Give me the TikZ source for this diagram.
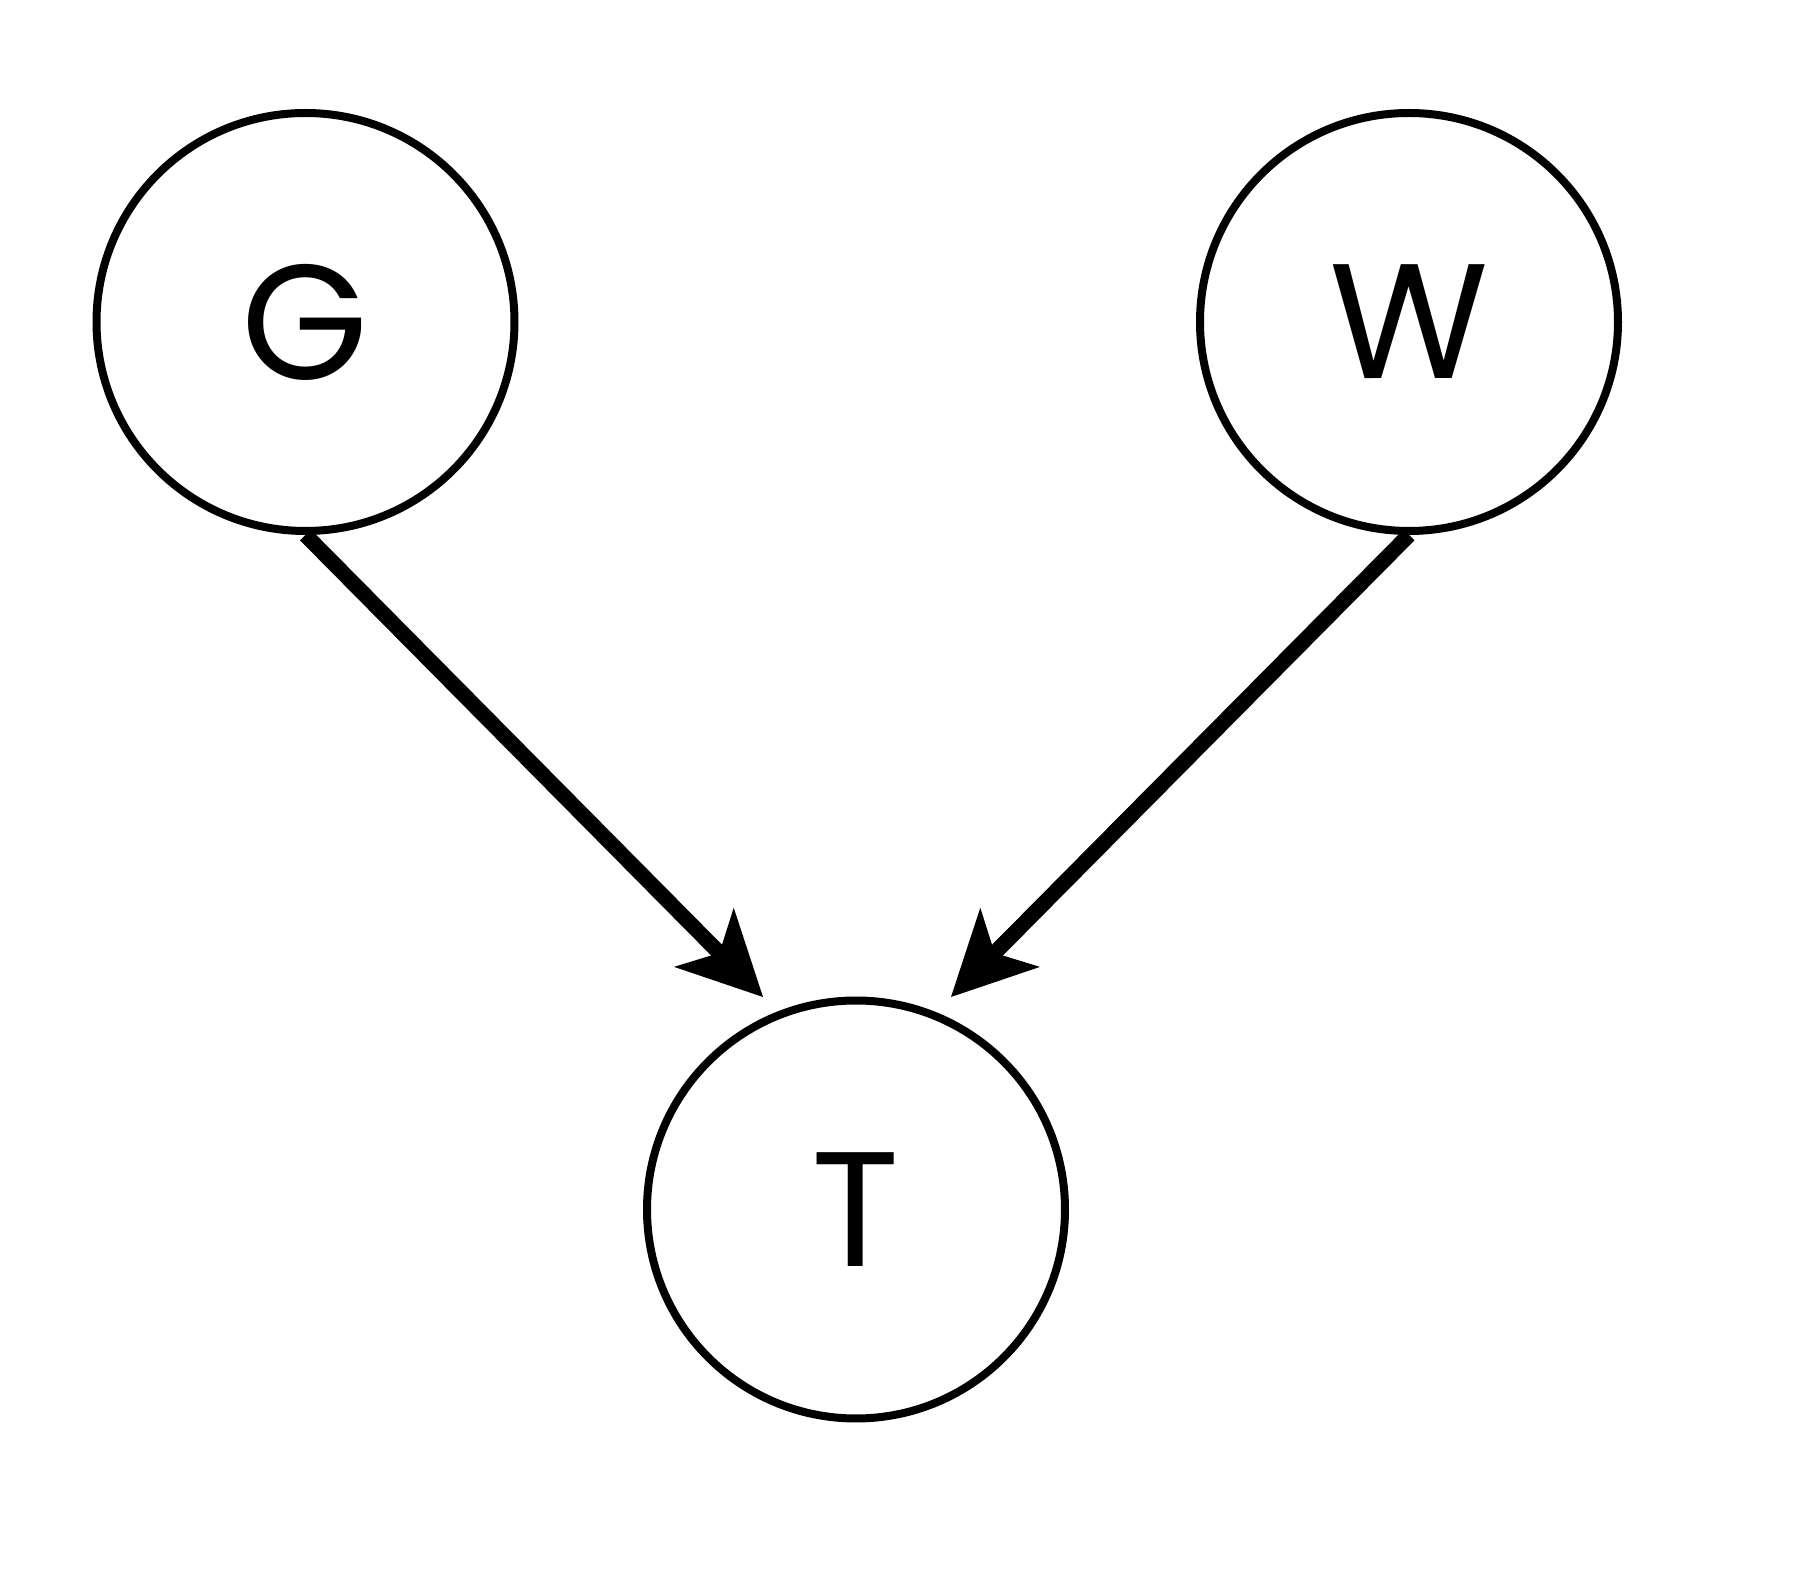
\documentclass[tikz,border=0pt]{standalone}
\usepackage{fontspec}
\setmainfont{Poppins}
\usetikzlibrary{arrows.meta}

\tikzset{
  var/.style={draw, circle, line width=2.4pt, minimum size=125.4pt, inner sep=0pt, font=\fontsize{49}{50}\selectfont},
  edge/.style={line width=4.6pt, -{Stealth[length=25.2pt, width=25.2pt, inset=6.6pt, line width=0pt]}}
}

\begin{document}
\begin{tikzpicture}[x=0.3pt,y=-0.3pt]
    \useasboundingbox (0,0) rectangle (1801,1581);

    \node [var] (G) at (305.5,322) {G};
    \node [var] (W) at (1409,322) {W};
    \node [var] (T) at (856,1209.5) {T};

    \coordinate (tipG) at (763,997);
    \coordinate (tipW) at (951,997);

    \draw [edge] (G.south) -- (tipG);
    \draw [edge] (W.south) -- (tipW);
  \end{tikzpicture}
\end{document}
